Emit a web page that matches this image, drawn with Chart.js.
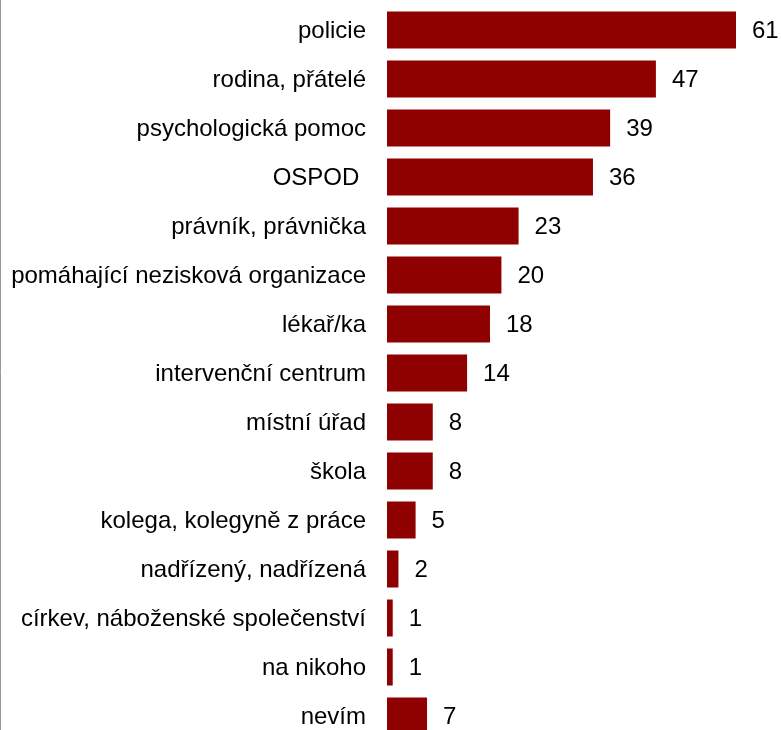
<!DOCTYPE html>
<html>
<head>
<meta charset="utf-8">
<script src="https://cdn.jsdelivr.net/npm/chart.js@4.4.0/dist/chart.umd.min.js"></script>
<style>
html,body{margin:0;padding:0;overflow:hidden;background:#fff;height:730px;}
canvas{display:block;}
</style>
</head>
<body>
<canvas id="c" width="781" height="745"></canvas>
<script>
const categories = ["policie","rodina, přátelé","psychologická pomoc","OSPOD ","právník, právnička","pomáhající nezisková organizace","lékař/ka","intervenční centrum","místní úřad","škola","kolega, kolegyně z práce","nadřízený, nadřízená","církev, náboženské společenství","na nikoho","nevím"];
const values = [61,47,39,36,23,20,18,14,8,8,5,2,1,1,7];

const valueLabels = {
  id:'valueLabels',
  afterDatasetsDraw(chart){
    const ctx = chart.ctx;
    const meta = chart.getDatasetMeta(0);
    ctx.save();
    ctx.font = '24px "Liberation Sans", Arial, sans-serif';
    ctx.fillStyle = '#000';
    ctx.textAlign = 'left';
    ctx.textBaseline = 'middle';
    meta.data.forEach((bar,i)=>{
      ctx.fillText(String(values[i]), bar.x + 16, bar.y + 1.5);
    });
    ctx.restore();
  },
  beforeDraw(chart){
    const ctx = chart.ctx;
    ctx.save();
    ctx.strokeStyle = '#999';
    ctx.lineWidth = 1;
    ctx.beginPath();
    ctx.moveTo(0.5,0);
    ctx.lineTo(0.5,chart.height);
    ctx.stroke();
    ctx.restore();
  }
};

new Chart(document.getElementById('c'), {
  type:'bar',
  data:{
    labels:categories,
    datasets:[{
      data:values,
      backgroundColor:'#8f0000',
      borderWidth:0,
      categoryPercentage:1,
      barPercentage:0.755
    }]
  },
  options:{
    indexAxis:'y',
    responsive:false,
    animation:false,
    layout:{padding:{top:5.5,bottom:4.5,right:45,left:0}},
    plugins:{legend:{display:false},tooltip:{enabled:false}},
    scales:{
      x:{display:false,min:0,max:61},
      y:{
        grid:{display:true,drawOnChartArea:false,drawTicks:true,tickLength:21,color:'rgba(0,0,0,0)'},
        border:{display:false},
        afterFit(scale){ scale.paddingTop = 0; scale.paddingBottom = 0; scale.width = 387; },
        ticks:{
          color:'#000',
          padding:0,
          labelOffset:1,
          font:{family:'"Liberation Sans", Arial, sans-serif',size:24}
        }
      }
    }
  },
  plugins:[valueLabels]
});
</script>
</body>
</html>
